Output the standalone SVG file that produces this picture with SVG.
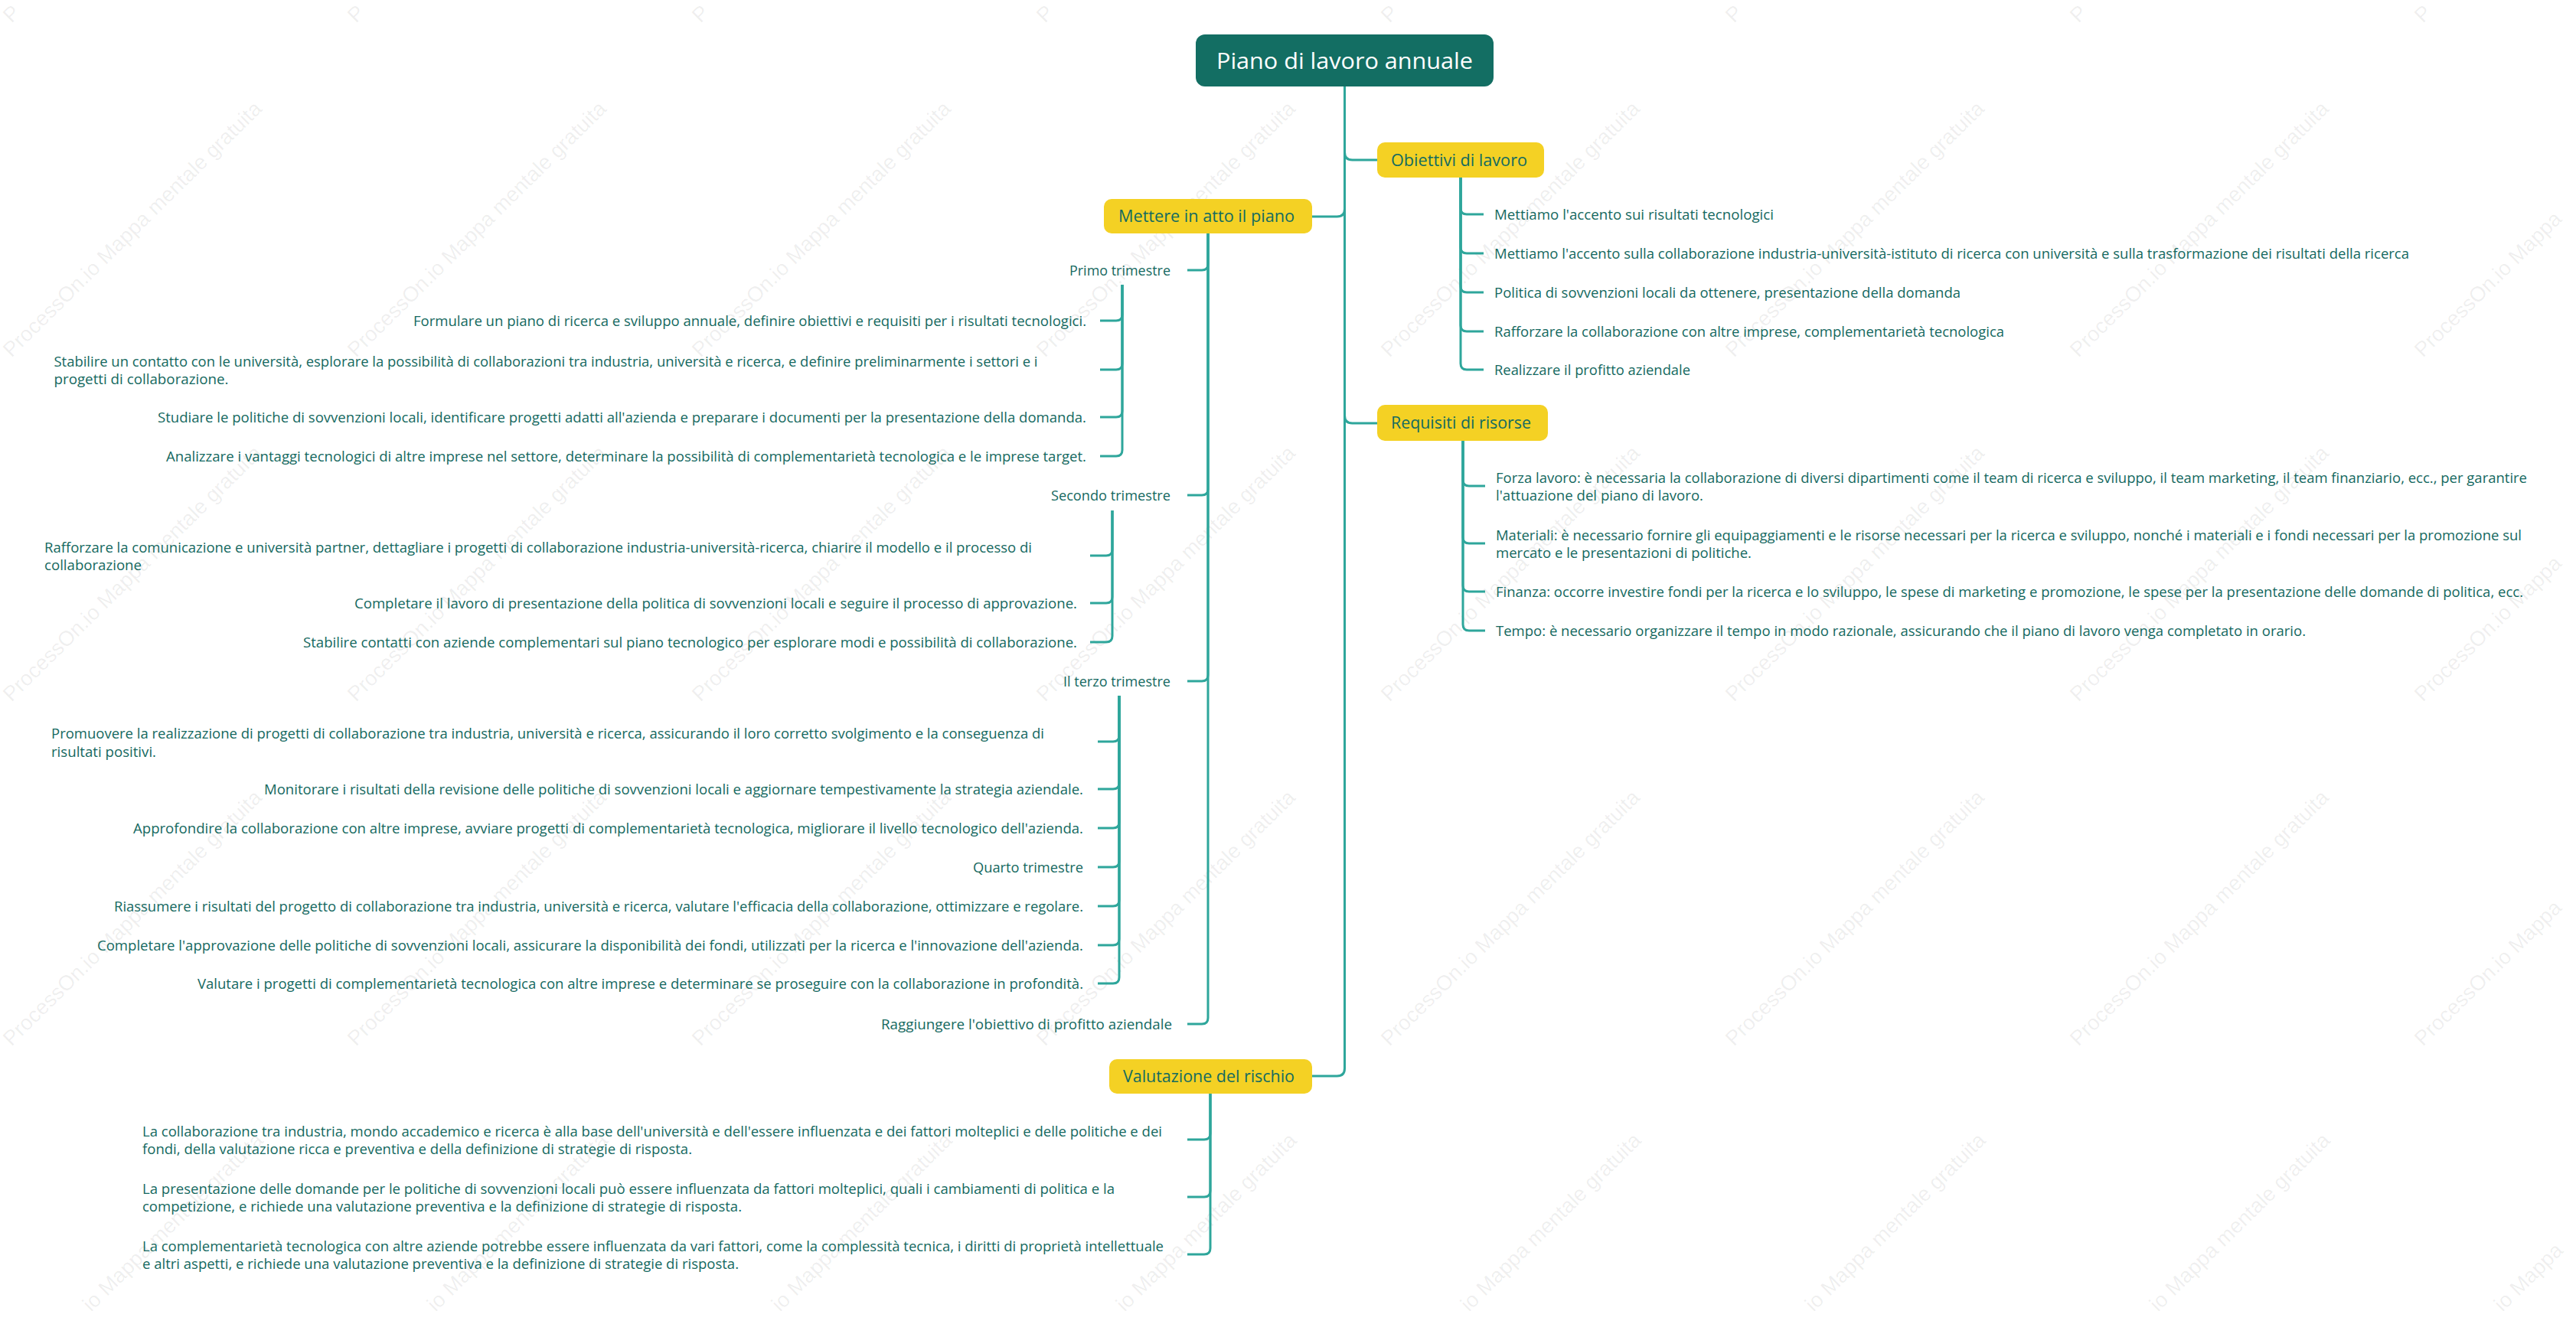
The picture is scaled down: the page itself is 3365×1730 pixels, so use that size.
<svg xmlns="http://www.w3.org/2000/svg" width="3365" height="1730" viewBox="0 0 3365 1730">
<style>
.w{font-family:"Liberation Sans",Arial,sans-serif;font-size:27.5px;fill:#000;fill-opacity:0.07}
.t{font-family:"Open Sans","Noto Sans",sans-serif;font-size:18px;fill:#15695f}
.e{text-anchor:end}
.b{font-family:"Open Sans","Noto Sans",sans-serif;font-size:22px;fill:#136b60;text-anchor:middle}
.r{font-family:"Open Sans","Noto Sans",sans-serif;font-size:30px;fill:#ffffff;text-anchor:middle}
.y{fill:#f4d124}
.c path{fill:none;stroke:#2ea69b;stroke-width:3;stroke-linecap:butt}
</style>
<rect width="3365" height="1730" fill="#ffffff"/>
<g id="watermark">
<text class="w" transform="translate(15,31) rotate(-44.6)">P</text>
<text class="w" transform="translate(465,31) rotate(-44.6)">P</text>
<text class="w" transform="translate(915,31) rotate(-44.6)">P</text>
<text class="w" transform="translate(1365,31) rotate(-44.6)">P</text>
<text class="w" transform="translate(1815,31) rotate(-44.6)">P</text>
<text class="w" transform="translate(2265,31) rotate(-44.6)">P</text>
<text class="w" transform="translate(2715,31) rotate(-44.6)">P</text>
<text class="w" transform="translate(3165,31) rotate(-44.6)">P</text>
<text class="w" transform="translate(15,468) rotate(-44.6)">ProcessOn.io Mappa mentale gratuita</text>
<text class="w" transform="translate(465,468) rotate(-44.6)">ProcessOn.io Mappa mentale gratuita</text>
<text class="w" transform="translate(915,468) rotate(-44.6)">ProcessOn.io Mappa mentale gratuita</text>
<text class="w" transform="translate(1365,468) rotate(-44.6)">ProcessOn.io Mappa mentale gratuita</text>
<text class="w" transform="translate(1815,468) rotate(-44.6)">ProcessOn.io Mappa mentale gratuita</text>
<text class="w" transform="translate(2265,468) rotate(-44.6)">ProcessOn.io Mappa mentale gratuita</text>
<text class="w" transform="translate(2715,468) rotate(-44.6)">ProcessOn.io Mappa mentale gratuita</text>
<text class="w" transform="translate(3165,468) rotate(-44.6)">ProcessOn.io Mappa</text>
<text class="w" transform="translate(15,918) rotate(-44.6)">ProcessOn.io Mappa mentale gratuita</text>
<text class="w" transform="translate(465,918) rotate(-44.6)">ProcessOn.io Mappa mentale gratuita</text>
<text class="w" transform="translate(915,918) rotate(-44.6)">ProcessOn.io Mappa mentale gratuita</text>
<text class="w" transform="translate(1365,918) rotate(-44.6)">ProcessOn.io Mappa mentale gratuita</text>
<text class="w" transform="translate(1815,918) rotate(-44.6)">ProcessOn.io Mappa mentale gratuita</text>
<text class="w" transform="translate(2265,918) rotate(-44.6)">ProcessOn.io Mappa mentale gratuita</text>
<text class="w" transform="translate(2715,918) rotate(-44.6)">ProcessOn.io Mappa mentale gratuita</text>
<text class="w" transform="translate(3165,918) rotate(-44.6)">ProcessOn.io Mappa</text>
<text class="w" transform="translate(15,1368) rotate(-44.6)">ProcessOn.io Mappa mentale gratuita</text>
<text class="w" transform="translate(465,1368) rotate(-44.6)">ProcessOn.io Mappa mentale gratuita</text>
<text class="w" transform="translate(915,1368) rotate(-44.6)">ProcessOn.io Mappa mentale gratuita</text>
<text class="w" transform="translate(1365,1368) rotate(-44.6)">ProcessOn.io Mappa mentale gratuita</text>
<text class="w" transform="translate(1815,1368) rotate(-44.6)">ProcessOn.io Mappa mentale gratuita</text>
<text class="w" transform="translate(2265,1368) rotate(-44.6)">ProcessOn.io Mappa mentale gratuita</text>
<text class="w" transform="translate(2715,1368) rotate(-44.6)">ProcessOn.io Mappa mentale gratuita</text>
<text class="w" transform="translate(3165,1368) rotate(-44.6)">ProcessOn.io Mappa</text>
<text class="w" transform="translate(119,1715) rotate(-44.6)">io Mappa mentale gratuita</text>
<text class="w" transform="translate(569,1715) rotate(-44.6)">io Mappa mentale gratuita</text>
<text class="w" transform="translate(1019,1715) rotate(-44.6)">io Mappa mentale gratuita</text>
<text class="w" transform="translate(1469,1715) rotate(-44.6)">io Mappa mentale gratuita</text>
<text class="w" transform="translate(1919,1715) rotate(-44.6)">io Mappa mentale gratuita</text>
<text class="w" transform="translate(2369,1715) rotate(-44.6)">io Mappa mentale gratuita</text>
<text class="w" transform="translate(2819,1715) rotate(-44.6)">io Mappa mentale gratuita</text>
<text class="w" transform="translate(3269,1715) rotate(-44.6)">io Mappa</text>
</g>
<g id="connectors" class="c">
<path d="M1756.5,113 V199 Q1756.5,209 1766.5,209 H1799"/>
<path d="M1756.5,113 V273 Q1756.5,283 1746.5,283 H1714"/>
<path d="M1756.5,113 V543 Q1756.5,553 1766.5,553 H1799"/>
<path d="M1756.5,113 V1396 Q1756.5,1406 1746.5,1406 H1714"/>
<path d="M1908,232 V272 Q1908,280 1916,280 H1938"/>
<path d="M1908,232 V323 Q1908,331 1916,331 H1938"/>
<path d="M1908,232 V374 Q1908,382 1916,382 H1938"/>
<path d="M1908,232 V425 Q1908,433 1916,433 H1938"/>
<path d="M1908,232 V475 Q1908,483 1916,483 H1938"/>
<path d="M1911,576 V627 Q1911,635 1919,635 H1940"/>
<path d="M1911,576 V702 Q1911,710 1919,710 H1940"/>
<path d="M1911,576 V765 Q1911,773 1919,773 H1940"/>
<path d="M1911,576 V816 Q1911,824 1919,824 H1940"/>
<path d="M1578,305 V345 Q1578,353 1570,353 H1551"/>
<path d="M1578,305 V639 Q1578,647 1570,647 H1551"/>
<path d="M1578,305 V882 Q1578,890 1570,890 H1551"/>
<path d="M1578,305 V1330 Q1578,1338 1570,1338 H1551"/>
<path d="M1466,372 V411 Q1466,419 1458,419 H1437"/>
<path d="M1466,372 V475 Q1466,483 1458,483 H1437"/>
<path d="M1466,372 V537 Q1466,545 1458,545 H1437"/>
<path d="M1466,372 V588 Q1466,596 1458,596 H1437"/>
<path d="M1453,667 V718 Q1453,726 1445,726 H1424"/>
<path d="M1453,667 V780 Q1453,788 1445,788 H1424"/>
<path d="M1453,667 V831 Q1453,839 1445,839 H1424"/>
<path d="M1462,909 V961 Q1462,969 1454,969 H1434"/>
<path d="M1462,909 V1023 Q1462,1031 1454,1031 H1434"/>
<path d="M1462,909 V1074 Q1462,1082 1454,1082 H1434"/>
<path d="M1462,909 V1125 Q1462,1133 1454,1133 H1434"/>
<path d="M1462,909 V1176 Q1462,1184 1454,1184 H1434"/>
<path d="M1462,909 V1227 Q1462,1235 1454,1235 H1434"/>
<path d="M1462,909 V1277 Q1462,1285 1454,1285 H1434"/>
<path d="M1581,1429 V1481 Q1581,1489 1573,1489 H1551"/>
<path d="M1581,1429 V1556 Q1581,1564 1573,1564 H1551"/>
<path d="M1581,1429 V1631 Q1581,1639 1573,1639 H1551"/>
</g>
<g id="root"><rect x="1562" y="45" width="389" height="68" rx="12" fill="#136e63"/><text class="r" x="1756.5" y="90" textLength="335" lengthAdjust="spacingAndGlyphs">Piano di lavoro annuale</text></g>
<g id="obiettivi"><rect class="y" x="1799" y="186" width="218" height="46" rx="10"/><text class="b" x="1906" y="216.5" textLength="178" lengthAdjust="spacingAndGlyphs">Obiettivi di lavoro</text></g>
<g id="mettere"><rect class="y" x="1442" y="260" width="272" height="45" rx="10"/><text class="b" x="1576" y="290" textLength="230" lengthAdjust="spacingAndGlyphs">Mettere in atto il piano</text></g>
<g id="requisiti"><rect class="y" x="1799" y="529" width="223" height="47" rx="10"/><text class="b" x="1908.5" y="560" textLength="183" lengthAdjust="spacingAndGlyphs">Requisiti di risorse</text></g>
<g id="valutazione"><rect class="y" x="1449" y="1384" width="265" height="45" rx="10"/><text class="b" x="1579" y="1414" textLength="224" lengthAdjust="spacingAndGlyphs">Valutazione del rischio</text></g>
<g id="ob1"><text class="t" x="1952" y="287" textLength="365" lengthAdjust="spacingAndGlyphs">Mettiamo l'accento sui risultati tecnologici</text></g>
<g id="ob2"><text class="t" x="1952" y="338" textLength="1195" lengthAdjust="spacingAndGlyphs">Mettiamo l'accento sulla collaborazione industria-università-istituto di ricerca con università e sulla trasformazione dei risultati della ricerca</text></g>
<g id="ob3"><text class="t" x="1952" y="389" textLength="609" lengthAdjust="spacingAndGlyphs">Politica di sovvenzioni locali da ottenere, presentazione della domanda</text></g>
<g id="ob4"><text class="t" x="1952" y="440" textLength="666" lengthAdjust="spacingAndGlyphs">Rafforzare la collaborazione con altre imprese, complementarietà tecnologica</text></g>
<g id="ob5"><text class="t" x="1952" y="490" textLength="256" lengthAdjust="spacingAndGlyphs">Realizzare il profitto aziendale</text></g>
<g id="rq1"><text class="t" x="1954" y="630.5" textLength="1347" lengthAdjust="spacingAndGlyphs">Forza lavoro: è necessaria la collaborazione di diversi dipartimenti come il team di ricerca e sviluppo, il team marketing, il team finanziario, ecc., per garantire</text><text class="t" x="1954" y="654" textLength="271" lengthAdjust="spacingAndGlyphs">l'attuazione del piano di lavoro.</text></g>
<g id="rq2"><text class="t" x="1954" y="705.5" textLength="1340" lengthAdjust="spacingAndGlyphs">Materiali: è necessario fornire gli equipaggiamenti e le risorse necessari per la ricerca e sviluppo, nonché i materiali e i fondi necessari per la promozione sul</text><text class="t" x="1954" y="729" textLength="334" lengthAdjust="spacingAndGlyphs">mercato e le presentazioni di politiche.</text></g>
<g id="rq3"><text class="t" x="1954" y="780" textLength="1342" lengthAdjust="spacingAndGlyphs">Finanza: occorre investire fondi per la ricerca e lo sviluppo, le spese di marketing e promozione, le spese per la presentazione delle domande di politica, ecc.</text></g>
<g id="rq4"><text class="t" x="1954" y="831" textLength="1058" lengthAdjust="spacingAndGlyphs">Tempo: è necessario organizzare il tempo in modo razionale, assicurando che il piano di lavoro venga completato in orario.</text></g>
<g id="primo"><text class="t e" x="1529" y="360" textLength="132" lengthAdjust="spacingAndGlyphs">Primo trimestre</text></g>
<g id="secondo"><text class="t e" x="1529" y="654" textLength="156" lengthAdjust="spacingAndGlyphs">Secondo trimestre</text></g>
<g id="terzo"><text class="t e" x="1529" y="897" textLength="140" lengthAdjust="spacingAndGlyphs">Il terzo trimestre</text></g>
<g id="raggiungere"><text class="t e" x="1531" y="1345" textLength="380" lengthAdjust="spacingAndGlyphs">Raggiungere l'obiettivo di profitto aziendale</text></g>
<g id="p1"><text class="t e" x="1419" y="426" textLength="879" lengthAdjust="spacingAndGlyphs">Formulare un piano di ricerca e sviluppo annuale, definire obiettivi e requisiti per i risultati tecnologici.</text></g>
<g id="p2"><text class="t" x="70.5" y="478.5" textLength="1285" lengthAdjust="spacingAndGlyphs">Stabilire un contatto con le università, esplorare la possibilità di collaborazioni tra industria, università e ricerca, e definire preliminarmente i settori e i</text><text class="t" x="70.5" y="502" textLength="228" lengthAdjust="spacingAndGlyphs">progetti di collaborazione.</text></g>
<g id="p3"><text class="t e" x="1419" y="552" textLength="1213" lengthAdjust="spacingAndGlyphs">Studiare le politiche di sovvenzioni locali, identificare progetti adatti all'azienda e preparare i documenti per la presentazione della domanda.</text></g>
<g id="p4"><text class="t e" x="1419" y="603" textLength="1202" lengthAdjust="spacingAndGlyphs">Analizzare i vantaggi tecnologici di altre imprese nel settore, determinare la possibilità di complementarietà tecnologica e le imprese target.</text></g>
<g id="s1"><text class="t" x="58" y="721.5" textLength="1290" lengthAdjust="spacingAndGlyphs">Rafforzare la comunicazione e università partner, dettagliare i progetti di collaborazione industria-università-ricerca, chiarire il modello e il processo di</text><text class="t" x="58" y="745" textLength="127" lengthAdjust="spacingAndGlyphs">collaborazione</text></g>
<g id="s2"><text class="t e" x="1407" y="795" textLength="944" lengthAdjust="spacingAndGlyphs">Completare il lavoro di presentazione della politica di sovvenzioni locali e seguire il processo di approvazione.</text></g>
<g id="s3"><text class="t e" x="1407" y="846" textLength="1011" lengthAdjust="spacingAndGlyphs">Stabilire contatti con aziende complementari sul piano tecnologico per esplorare modi e possibilità di collaborazione.</text></g>
<g id="t1"><text class="t" x="67" y="965" textLength="1297" lengthAdjust="spacingAndGlyphs">Promuovere la realizzazione di progetti di collaborazione tra industria, università e ricerca, assicurando il loro corretto svolgimento e la conseguenza di</text><text class="t" x="67" y="988.5" textLength="137" lengthAdjust="spacingAndGlyphs">risultati positivi.</text></g>
<g id="t2"><text class="t e" x="1415" y="1038" textLength="1070" lengthAdjust="spacingAndGlyphs">Monitorare i risultati della revisione delle politiche di sovvenzioni locali e aggiornare tempestivamente la strategia aziendale.</text></g>
<g id="t3"><text class="t e" x="1415" y="1089" textLength="1241" lengthAdjust="spacingAndGlyphs">Approfondire la collaborazione con altre imprese, avviare progetti di complementarietà tecnologica, migliorare il livello tecnologico dell'azienda.</text></g>
<g id="t4"><text class="t e" x="1415" y="1140" textLength="144" lengthAdjust="spacingAndGlyphs">Quarto trimestre</text></g>
<g id="t5"><text class="t e" x="1415" y="1191" textLength="1266" lengthAdjust="spacingAndGlyphs">Riassumere i risultati del progetto di collaborazione tra industria, università e ricerca, valutare l'efficacia della collaborazione, ottimizzare e regolare.</text></g>
<g id="t6"><text class="t e" x="1415" y="1242" textLength="1288" lengthAdjust="spacingAndGlyphs">Completare l'approvazione delle politiche di sovvenzioni locali, assicurare la disponibilità dei fondi, utilizzati per la ricerca e l'innovazione dell'azienda.</text></g>
<g id="t7"><text class="t e" x="1415" y="1292" textLength="1157" lengthAdjust="spacingAndGlyphs">Valutare i progetti di complementarietà tecnologica con altre imprese e determinare se proseguire con la collaborazione in profondità.</text></g>
<g id="v1"><text class="t" x="186" y="1484.5" textLength="1332" lengthAdjust="spacingAndGlyphs">La collaborazione tra industria, mondo accademico e ricerca è alla base dell'università e dell'essere influenzata e dei fattori molteplici e delle politiche e dei</text><text class="t" x="186" y="1508" textLength="718" lengthAdjust="spacingAndGlyphs">fondi, della valutazione ricca e preventiva e della definizione di strategie di risposta.</text></g>
<g id="v2"><text class="t" x="186" y="1559.5" textLength="1270" lengthAdjust="spacingAndGlyphs">La presentazione delle domande per le politiche di sovvenzioni locali può essere influenzata da fattori molteplici, quali i cambiamenti di politica e la</text><text class="t" x="186" y="1583" textLength="783" lengthAdjust="spacingAndGlyphs">competizione, e richiede una valutazione preventiva e la definizione di strategie di risposta.</text></g>
<g id="v3"><text class="t" x="186" y="1634.5" textLength="1334" lengthAdjust="spacingAndGlyphs">La complementarietà tecnologica con altre aziende potrebbe essere influenzata da vari fattori, come la complessità tecnica, i diritti di proprietà intellettuale</text><text class="t" x="186" y="1658" textLength="779" lengthAdjust="spacingAndGlyphs">e altri aspetti, e richiede una valutazione preventiva e la definizione di strategie di risposta.</text></g>
</svg>
